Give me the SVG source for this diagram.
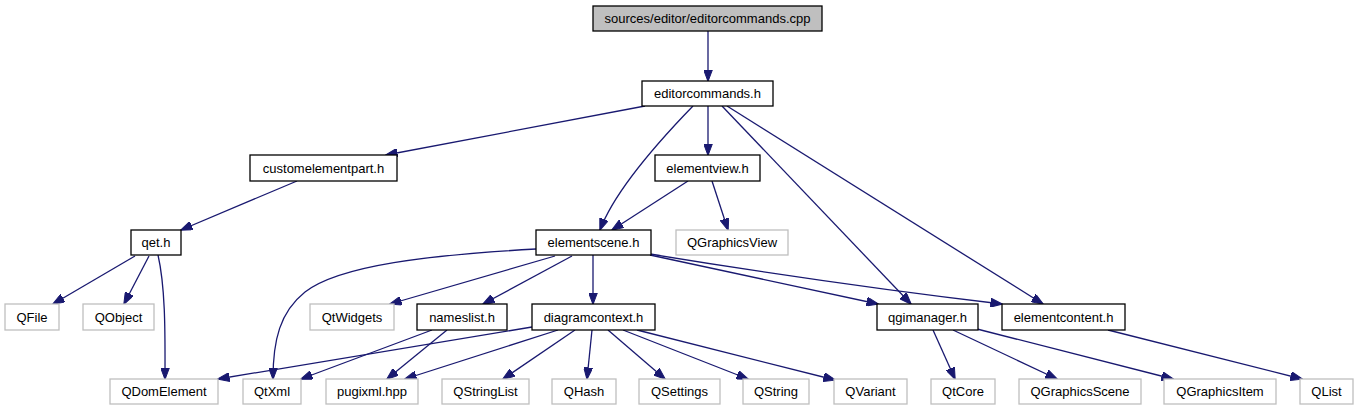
<svg xmlns="http://www.w3.org/2000/svg" width="1359" height="411" viewBox="0 0 1359 411">
<style>
.n rect{fill:#fff;stroke:#000;stroke-width:1.3}
.n.root rect{fill:#bfbfbf}
.n.ext rect{stroke:#bfbfbf}
.n text{font-family:"Liberation Sans",Arial,sans-serif;font-size:13px;text-anchor:middle;fill:#000}
#edges path{fill:none;stroke:#191970;stroke-width:1.3;marker-end:url(#ah)}
</style>
<defs>
<marker id="ah" viewBox="0 0 12 9" markerWidth="12" markerHeight="9" refX="11.5" refY="4.5" orient="auto" markerUnits="userSpaceOnUse">
<path d="M0,0 L12,4.5 L0,9 z" fill="#191970" stroke="#191970" stroke-width="1"/>
</marker>
</defs>
<rect width="1359" height="411" fill="#fff"/>
<g id="edges">
<path d="M708,31 L708,81"/>
<path d="M645,106 L386,155"/>
<path d="M693,106 C660,140 615,190 600,230"/>
<path d="M708,106 L708,155"/>
<path d="M722,106 L911,304"/>
<path d="M727,106 L1043,304"/>
<path d="M688,181 L612,230"/>
<path d="M712,181 L728,230"/>
<path d="M297,181 L181,230"/>
<path d="M135,256 L53,304"/>
<path d="M149,256 L124,304"/>
<path d="M158,255 C166,290 165,340 165,379"/>
<path d="M536,249 C430,255 340,265 305,292 C280,312 273,340 273,379"/>
<path d="M555,256 L390,304"/>
<path d="M572,256 L483,304"/>
<path d="M593,255 L593,304"/>
<path d="M650,255 L878,304"/>
<path d="M650,254 C760,272 900,292 1002,304"/>
<path d="M432,330 L301,379"/>
<path d="M447,330 L387,379"/>
<path d="M532,327 L218,379"/>
<path d="M558,330 L405,379"/>
<path d="M575,330 L503,379"/>
<path d="M592,330 L587,379"/>
<path d="M608,330 L665,379"/>
<path d="M623,330 L748,379"/>
<path d="M637,330 L835,380"/>
<path d="M933,330 L955,379"/>
<path d="M953,330 L1057,379"/>
<path d="M977,329 L1173,379"/>
<path d="M1108,330 L1302,379"/>
</g>
<g id="n_cpp" class="n root"><rect x="593" y="6" width="229" height="25"/><text x="707.5" y="23">sources/editor/editorcommands.cpp</text></g>
<g id="n_editorcommands" class="n"><rect x="642" y="81" width="131" height="25"/><text x="707.5" y="98">editorcommands.h</text></g>
<g id="n_customelementpart" class="n"><rect x="250" y="155" width="147" height="26"/><text x="323.5" y="172.5">customelementpart.h</text></g>
<g id="n_elementview" class="n"><rect x="655" y="155" width="105" height="26"/><text x="707.5" y="172.5">elementview.h</text></g>
<g id="n_qet" class="n"><rect x="131" y="230" width="50" height="25"/><text x="156" y="247">qet.h</text></g>
<g id="n_elementscene" class="n"><rect x="536" y="230" width="115" height="25"/><text x="593.5" y="247">elementscene.h</text></g>
<g id="n_qgraphicsview" class="n ext"><rect x="676" y="230" width="112" height="25"/><text x="732" y="247">QGraphicsView</text></g>
<g id="n_qfile" class="n ext"><rect x="5" y="304" width="54" height="26"/><text x="32" y="321.5">QFile</text></g>
<g id="n_qobject" class="n ext"><rect x="83" y="304" width="71" height="26"/><text x="118.5" y="321.5">QObject</text></g>
<g id="n_qtwidgets" class="n ext"><rect x="310" y="304" width="84" height="26"/><text x="352" y="321.5">QtWidgets</text></g>
<g id="n_nameslist" class="n"><rect x="417" y="304" width="90" height="26"/><text x="462" y="321.5">nameslist.h</text></g>
<g id="n_diagramcontext" class="n"><rect x="532" y="304" width="123" height="26"/><text x="593.5" y="321.5">diagramcontext.h</text></g>
<g id="n_qgimanager" class="n"><rect x="877" y="304" width="101" height="26"/><text x="927.5" y="321.5">qgimanager.h</text></g>
<g id="n_elementcontent" class="n"><rect x="1002" y="304" width="123" height="26"/><text x="1063.5" y="321.5">elementcontent.h</text></g>
<g id="n_qdomelement" class="n ext"><rect x="110" y="379" width="108" height="25"/><text x="164" y="396">QDomElement</text></g>
<g id="n_qtxml" class="n ext"><rect x="243" y="379" width="58" height="25"/><text x="272" y="396">QtXml</text></g>
<g id="n_pugixml" class="n ext"><rect x="326" y="379" width="92" height="25"/><text x="372" y="396">pugixml.hpp</text></g>
<g id="n_qstringlist" class="n ext"><rect x="442" y="379" width="87" height="25"/><text x="485.5" y="396">QStringList</text></g>
<g id="n_qhash" class="n ext"><rect x="552" y="379" width="64" height="25"/><text x="584" y="396">QHash</text></g>
<g id="n_qsettings" class="n ext"><rect x="639" y="379" width="81" height="25"/><text x="679.5" y="396">QSettings</text></g>
<g id="n_qstring" class="n ext"><rect x="743" y="379" width="66" height="25"/><text x="776" y="396">QString</text></g>
<g id="n_qvariant" class="n ext"><rect x="834" y="379" width="73" height="25"/><text x="870.5" y="396">QVariant</text></g>
<g id="n_qtcore" class="n ext"><rect x="931" y="379" width="64" height="25"/><text x="963" y="396">QtCore</text></g>
<g id="n_qgraphicsscene" class="n ext"><rect x="1019" y="379" width="122" height="25"/><text x="1080" y="396">QGraphicsScene</text></g>
<g id="n_qgraphicsitem" class="n ext"><rect x="1164" y="379" width="112" height="25"/><text x="1220" y="396">QGraphicsItem</text></g>
<g id="n_qlist" class="n ext"><rect x="1300" y="379" width="53" height="25"/><text x="1326.5" y="396">QList</text></g>
</svg>
